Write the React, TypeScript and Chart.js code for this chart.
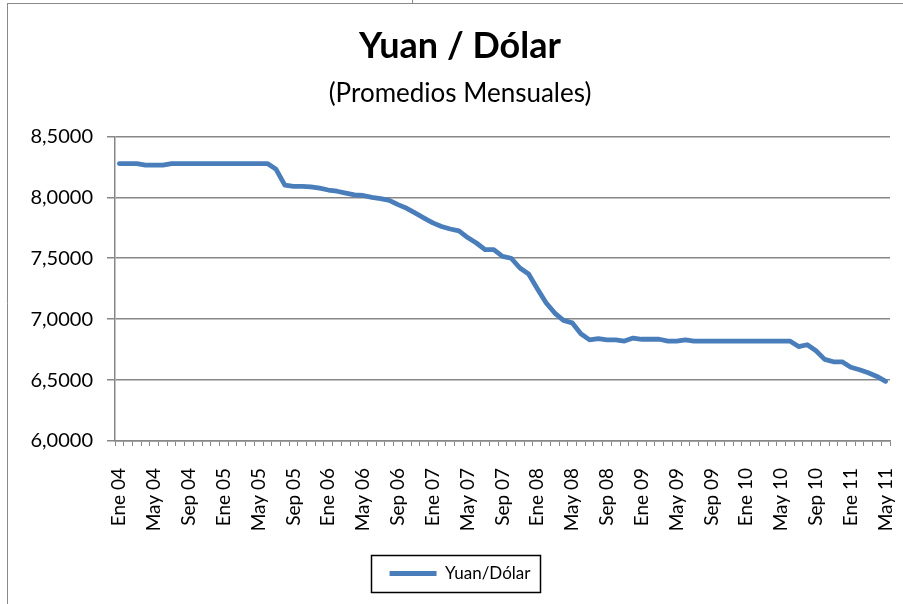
import React, { useEffect, useRef } from "react";
import { Chart, registerables } from "chart.js";

Chart.register(...registerables);

const MONTHS = ["Ene", "Feb", "Mar", "Abr", "May", "Jun", "Jul", "Ago", "Sep", "Oct", "Nov", "Dic"];
const YEARS = ["04", "05", "06", "07", "08", "09", "10", "11"];
const LAST_YEAR_MONTHS = 5;

const CATEGORIES: string[] = [];
YEARS.forEach((y, yi) => {
  const n = yi === YEARS.length - 1 ? LAST_YEAR_MONTHS : 12;
  for (let m = 0; m < n; m++) CATEGORIES.push(`${MONTHS[m]} ${y}`);
});

const V2004 = [8.277, 8.277, 8.277, 8.265, 8.265, 8.265, 8.277, 8.277, 8.277, 8.277, 8.277, 8.277];
const V2005 = [8.277, 8.277, 8.277, 8.277, 8.277, 8.277, 8.23, 8.1, 8.09, 8.09, 8.085, 8.075];
const V2006 = [8.06, 8.05, 8.035, 8.02, 8.015, 8.0, 7.99, 7.975, 7.94, 7.91, 7.87, 7.83];
const V2007 = [7.79, 7.76, 7.74, 7.725, 7.67, 7.625, 7.57, 7.57, 7.515, 7.5, 7.42, 7.37];
const V2008 = [7.25, 7.135, 7.05, 6.99, 6.97, 6.88, 6.83, 6.84, 6.83, 6.83, 6.82, 6.845];
const V2009 = [6.835, 6.835, 6.835, 6.82, 6.82, 6.83, 6.82, 6.82, 6.82, 6.82, 6.82, 6.82];
const V2010 = [6.82, 6.82, 6.82, 6.82, 6.82, 6.82, 6.775, 6.79, 6.74, 6.67, 6.65, 6.65];
const V2011 = [6.605, 6.585, 6.56, 6.53, 6.49];
const YUAN_DOLAR = [...V2004, ...V2005, ...V2006, ...V2007, ...V2008, ...V2009, ...V2010, ...V2011];

const TITLE = "Yuan / Dólar";
const SUBTITLE = "(Promedios Mensuales)";
const SERIES_NAME = "Yuan/Dólar";
const Y_MIN = 6;
const Y_MAX = 8.5;
const Y_STEP = 0.5;
const LABEL_EVERY = 4;

const BLUE = "#4a7ebb";
const GRID = "#878787";

const framePlugin = {
  id: "frame",
  beforeDraw(chart: any) {
    const ctx = chart.ctx;
    ctx.save();
    ctx.fillStyle = "#ffffff";
    ctx.fillRect(0, 0, chart.width, chart.height);
    ctx.strokeStyle = "#8a8a8a";
    ctx.lineWidth = 1;
    ctx.beginPath();
    ctx.moveTo(7.5, 3.5);
    ctx.lineTo(7.5, chart.height);
    ctx.moveTo(7, 3.5);
    ctx.lineTo(chart.width, 3.5);
    ctx.moveTo(412.5, 0);
    ctx.lineTo(412.5, 3);
    ctx.stroke();
    ctx.restore();
  },
  afterDraw(chart: any) {
    const lg = chart.legend;
    if (!lg || !lg.legendHitBoxes || !lg.legendHitBoxes.length) return;
    const hb = lg.legendHitBoxes[0];
    const ctx = chart.ctx;
    ctx.save();
    ctx.strokeStyle = "#000000";
    ctx.lineWidth = 1.5;
    const x0 = Math.round(hb.left - 19) + 0.5;
    const x1 = Math.round(hb.left + hb.width + 10) + 0.5;
    const yc = hb.top + hb.height / 2;
    const y0 = Math.round(yc - 19) + 0.5;
    const y1 = Math.round(yc + 18) + 0.5;
    ctx.strokeRect(x0, y0, x1 - x0, y1 - y0);
    ctx.restore();
  },
};

export default function App() {
  const ref = useRef<HTMLCanvasElement | null>(null);
  useEffect(() => {
    document.body.style.margin = "0";
    if (!ref.current) return;
    const chart = new Chart(ref.current, {
      type: "line",
      data: {
        labels: CATEGORIES,
        datasets: [
          {
            label: SERIES_NAME,
            data: YUAN_DOLAR,
            borderColor: BLUE,
            backgroundColor: BLUE,
            borderWidth: 4.8,
            pointRadius: 0,
            pointHoverRadius: 0,
            tension: 0,
            borderJoinStyle: "round",
            borderCapStyle: "round",
          },
        ],
      },
      options: {
        animation: false,
        responsive: false,
        maintainAspectRatio: false,
        layout: { padding: { left: 30, right: 13, top: 0, bottom: 12 } },
        plugins: {
          title: {
            display: true,
            text: TITLE,
            color: "#000",
            font: { family: "Lato", size: 36, weight: "bold", lineHeight: 1.2 },
            padding: { top: 25, bottom: 0 },
          },
          subtitle: {
            display: true,
            text: SUBTITLE,
            color: "#000",
            font: { family: "Lato", size: 26, weight: "normal", lineHeight: 1.2 },
            padding: { top: 10, bottom: 27 },
          },
          legend: {
            display: true,
            position: "bottom",
            labels: {
              color: "#000",
              font: { family: "Lato", size: 17 },
              boxWidth: 47,
              boxHeight: 5,
              padding: 10,
              generateLabels: (chart: any) =>
                Chart.defaults.plugins.legend.labels.generateLabels(chart).map((l: any) => ({
                  ...l,
                  lineWidth: 0,
                  fillStyle: BLUE,
                  strokeStyle: BLUE,
                })),
            },
          },
          tooltip: { enabled: false },
        },
        scales: {
          x: {
            type: "category",
            offset: true,
            afterFit: (s: any) => {
              s.height = 114;
              s.paddingLeft = 0;
              s.paddingRight = 0;
            },
            grid: {
              display: true,
              offset: true,
              drawOnChartArea: false,
              drawTicks: true,
              tickLength: 5,
              color: GRID,
              lineWidth: 1,
            },
            border: { display: true, color: GRID, width: 1.5 },
            ticks: {
              autoSkip: false,
              minRotation: 90,
              maxRotation: 90,
              padding: 22,
              color: "#000",
              font: { family: "Lato", size: 19 },
              callback: (_v: any, i: number) => (i % LABEL_EVERY === 0 ? CATEGORIES[i] : ""),
            },
          },
          y: {
            min: Y_MIN,
            max: Y_MAX,
            afterFit: (s: any) => {
              s.width = 85;
            },
            grid: {
              color: GRID,
              lineWidth: 1.5,
              drawTicks: true,
              tickLength: 8,
            },
            border: { display: true, color: GRID, width: 1.5 },
            ticks: {
              stepSize: Y_STEP,
              padding: 14,
              color: "#000",
              font: { family: "Lato", size: 20 },
              callback: (v: any) => Number(v).toFixed(4).replace(".", ","),
            },
          },
        },
      },
      plugins: [framePlugin],
    } as any);
    return () => chart.destroy();
  }, []);
  return (
    <canvas
      ref={ref}
      width={903}
      height={604}
      style={{ display: "block", width: 903, height: 604 }}
    />
  );
}
